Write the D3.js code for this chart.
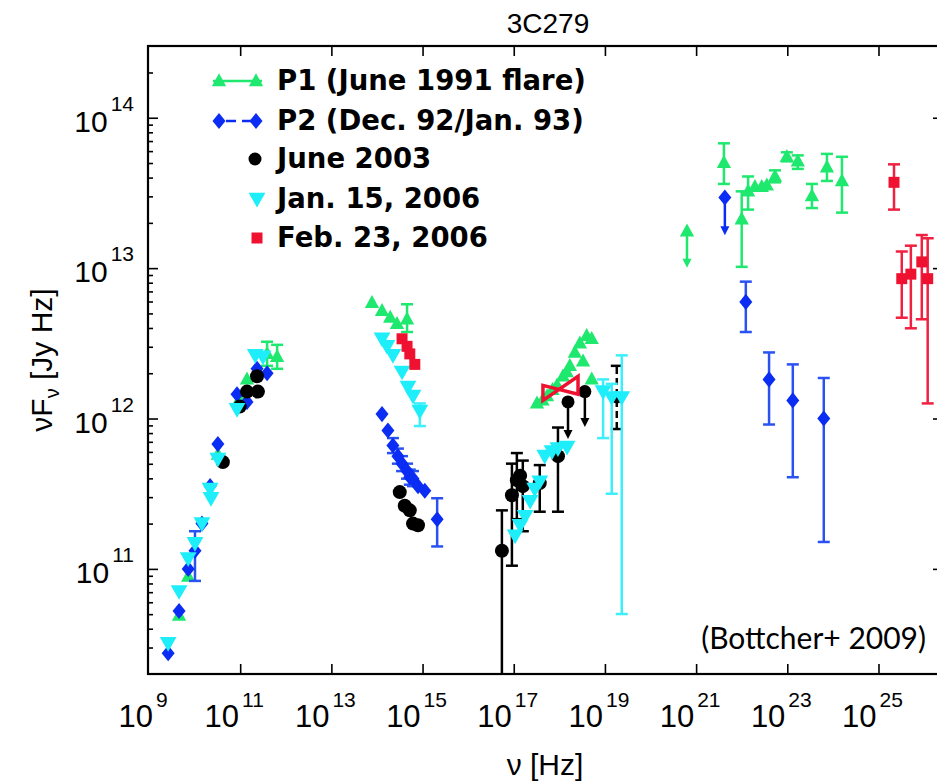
<!DOCTYPE html>
<html><head><meta charset="utf-8">
<script src="https://cdn.jsdelivr.net/npm/d3@7"></script>
<style>body{margin:0;background:#fff}</style>
</head><body>
<svg id="c" width="937" height="783"></svg>
<script>
// ---------------- data ----------------
const xTickExps = [9, 11, 13, 15, 17, 19, 21, 23, 25];
const yTickExps = [11, 12, 13, 14];
const seriesNames = ["P1 (June 1991 flare)", "P2 (Dec. 92/Jan. 93)", "June 2003", "Jan. 15, 2006", "Feb. 23, 2006"];
const seriesColors = ["#1ee86e", "#0b2cf2", "#000000", "#1eeefa", "#ef1230"];

// [nu (Hz), nuFnu (Jy Hz), lower, upper]
const p1 = [
  [4.57e9, 4.90e10], [7.24e9, 8.91e10], [3.24e10, 5.75e11], [9.77e10, 1.35e12], [1.41e11, 1.82e12],
  [3.89e11, 2.69e12, 2.24e12, 3.24e12], [6.46e11, 2.57e12, 2.14e12, 3.09e12],
  [7.76e13, 5.89e12], [1.29e14, 5.20e12], [1.95e14, 4.70e12], [2.75e14, 4.27e12], [4.57e14, 4.57e12, 3.76e12, 5.75e12],
  [3.24e17, 1.26e12], [4.27e17, 1.32e12], [5.37e17, 1.41e12], [7.08e17, 1.55e12], [8.91e17, 1.66e12], [1.20e18, 1.91e12],
  [1.45e18, 2.04e12], [1.70e18, 2.24e12], [2.19e18, 2.75e12], [2.82e18, 3.16e12], [3.31e18, 2.40e12], [3.98e18, 3.55e12],
  [5.13e18, 3.39e12], [5.13e18, 1.82e12],
  [4.07e21, 5.01e13, 3.63e13, 6.76e13], [1.00e22, 2.11e13, 1.02e13, 3.24e13], [1.38e22, 3.24e13, 2.45e13, 4.07e13],
  [1.95e22, 3.47e13], [2.75e22, 3.47e13], [3.55e22, 3.55e13], [5.37e22, 4.07e13, 3.72e13, 4.47e13],
  [9.77e22, 5.50e13, 5.13e13, 5.89e13], [1.70e23, 5.13e13, 4.57e13, 5.62e13], [3.47e23, 3.02e13, 2.51e13, 3.63e13],
  [7.41e23, 4.68e13, 3.80e13, 5.75e13], [1.58e24, 3.80e13, 2.34e13, 5.50e13]
];
// [nu, nuFnu, arrow tip]
const p1Limits = [[6.31e20, 1.76e13, 1.02e13]];

const p2 = [
  [2.63e9, 2.75e10], [4.57e9, 5.25e10], [7.24e9, 1.00e11], [1.02e10, 1.32e11, 8.32e10, 1.78e11], [1.45e10, 2.00e11],
  [2.19e10, 3.55e11], [3.24e10, 6.76e11], [8.51e10, 1.45e12], [1.41e11, 1.29e12], [2.34e11, 2.14e12], [3.89e11, 2.00e12],
  [1.29e14, 1.07e12], [1.74e14, 8.32e11], [2.24e14, 6.61e11, 5.89e11, 7.41e11], [2.88e14, 5.62e11, 5.01e11, 6.31e11],
  [3.55e14, 5.01e11, 4.47e11, 5.62e11], [4.57e14, 4.47e11, 3.98e11, 5.01e11], [5.25e14, 4.07e11, 3.63e11, 4.57e11],
  [6.17e14, 3.98e11, 3.55e11, 4.47e11], [7.94e14, 3.55e11], [1.12e15, 3.31e11], [2.09e15, 2.14e11, 1.41e11, 2.95e11],
  [1.23e22, 5.96e12, 3.76e12, 8.13e12], [3.98e22, 1.82e12, 9.12e11, 2.75e12], [1.32e23, 1.32e12, 4.07e11, 2.29e12],
  [6.31e23, 1.00e12, 1.51e11, 1.86e12]
];
const p2Limits = [[4.27e21, 2.95e13, 1.68e13]];

const june2003 = [
  [4.17e10, 5.13e11], [9.77e10, 1.20e12], [1.41e11, 1.51e12], [2.34e11, 1.91e12], [2.45e11, 1.51e12],
  [3.16e14, 3.24e11], [4.07e14, 2.63e11], [5.25e14, 2.45e11], [6.17e14, 2.00e11], [7.94e14, 1.95e11],
  [5.50e16, 1.32e11, 1.00e9, 2.45e11], [9.12e16, 3.09e11, 1.05e11, 5.01e11], [1.17e17, 3.89e11, 2.14e11, 5.89e11],
  [1.38e17, 4.17e11], [1.58e17, 3.55e11, 1.78e11, 5.25e11], [3.72e17, 3.72e11, 2.40e11, 4.90e11],
  [9.33e17, 5.62e11, 2.40e11, 8.71e11]
];
const june2003Dashed = [[1.82e19, 1.38e12, 8.51e11, 2.24e12]];
const june2003Limits = [[1.55e18, 1.29e12, 7.41e11], [3.63e18, 1.51e12, 8.91e11]];

const jan2006 = [
  [2.63e9, 3.20e10], [4.57e9, 7.08e10], [7.24e9, 1.17e11], [1.02e10, 1.48e11], [1.45e10, 2.00e11],
  [2.19e10, 3.39e11], [2.29e10, 2.95e11], [3.24e10, 5.37e11], [8.51e10, 1.15e12], [2.14e11, 2.63e12], [3.16e11, 2.57e12],
  [1.29e14, 3.39e12], [1.66e14, 3.02e12], [2.24e14, 2.63e12], [3.55e14, 2.04e12], [4.79e14, 1.62e12],
  [6.17e14, 1.41e12], [8.71e14, 1.12e12, 8.91e11, 1.26e12],
  [1.07e17, 1.66e11], [1.38e17, 1.95e11], [1.78e17, 2.24e11], [2.29e17, 2.82e11], [2.88e17, 3.39e11],
  [3.72e17, 3.80e11], [4.79e17, 5.62e11], [6.92e17, 6.03e11], [9.33e17, 6.31e11], [1.48e18, 6.46e11],
  [9.12e18, 1.51e12, 7.41e11, 1.82e12], [1.41e19, 1.38e12, 3.16e11, 1.70e12], [2.34e19, 1.38e12, 5.01e10, 2.63e12]
];

const feb2006 = [
  [3.55e14, 3.39e12], [4.57e14, 3.02e12], [5.25e14, 2.69e12], [6.76e14, 2.29e12],
  [2.19e25, 3.72e13, 2.45e13, 4.90e13], [3.24e25, 8.51e12, 4.68e12, 1.29e13], [5.13e25, 9.12e12, 3.98e12, 1.41e13],
  [8.91e25, 1.10e13, 4.57e12, 1.66e13], [1.20e26, 8.51e12, 1.26e12, 1.58e13]
];
// X-ray bow-tie: [nuLo, nuHi, F(nuLo) low, F(nuLo) high, F(nuHi) low, F(nuHi) high]
const feb2006Bowtie = [4.37e17, 2.57e18, 1.32e12, 1.66e12, 1.45e12, 1.91e12];

// ---------------- drawing ----------------
const svg = d3.select("#c");
const L = 148, R = 943, T = 46, B = 674;
const x = d3.scaleLog().domain([1e9, 2.6e26]).range([L + 1, R]);
const y = d3.scaleLog().domain([2e10, 3e14]).range([B, T]);
const FONT = "'Liberation Sans', Arial, Helvetica, sans-serif";

svg.append("defs").append("clipPath").attr("id", "plot")
  .append("rect").attr("x", L).attr("y", T).attr("width", R - L).attr("height", B - T);

// title
svg.append("text").attr("x", 548).attr("y", 33).attr("text-anchor", "middle")
  .attr("font-family", FONT).attr("font-size", 28).text("3C279");

// axes ticks
const majorX = xTickExps.map(e => Math.pow(10, e)).filter(v => v > 1e9);
const majorY = yTickExps.map(e => Math.pow(10, e));
const minorY = [];
for (let e = 10; e <= 14; e++) for (let k = 2; k <= 9; k++) { const v = k * Math.pow(10, e); if (v > 2e10 && v < 3e14) minorY.push(v); }

function styleAxis(g) {
  g.selectAll(".domain").remove();
  g.selectAll("line").attr("stroke", "#000").attr("stroke-width", 1.6);
  g.selectAll("text").remove();
}
svg.append("g").attr("transform", `translate(0,${B})`).call(d3.axisBottom(x).tickValues(majorX).tickSize(-10)).call(styleAxis);
svg.append("g").attr("transform", `translate(0,${T})`).call(d3.axisTop(x).tickValues(majorX).tickSize(-10)).call(styleAxis);
svg.append("g").attr("transform", `translate(${L},0)`).call(d3.axisLeft(y).tickValues(majorY).tickSize(-10)).call(styleAxis);
svg.append("g").attr("transform", `translate(${L},0)`).call(d3.axisLeft(y).tickValues(minorY).tickSize(-5)).call(styleAxis);
svg.append("g").attr("transform", `translate(${R},0)`).call(d3.axisRight(y).tickValues(majorY).tickSize(-10)).call(styleAxis);
svg.append("g").attr("transform", `translate(${R},0)`).call(d3.axisRight(y).tickValues(minorY).tickSize(-5)).call(styleAxis);

// frame
svg.append("rect").attr("x", L).attr("y", T).attr("width", R - L).attr("height", B - T)
  .attr("fill", "none").attr("stroke", "#000").attr("stroke-width", 2.2);

// tick labels
xTickExps.forEach(e => {
  const t = svg.append("text").attr("x", x(Math.pow(10, e)) - 6).attr("y", 727)
    .attr("text-anchor", "middle").attr("font-family", FONT).attr("font-size", 31);
  t.append("tspan").text("10");
  t.append("tspan").attr("dx", 3).attr("dy", -20).attr("font-size", 21).text(e);
});
yTickExps.forEach(e => {
  const yy = y(Math.pow(10, e));
  const t = svg.append("text").attr("x", 134).attr("y", yy + 14)
    .attr("text-anchor", "end").attr("font-family", FONT).attr("font-size", 30);
  t.append("tspan").text("10");
  t.append("tspan").attr("dx", 3).attr("dy", -21).attr("font-size", 21).text(e);
});

// axis titles
const yl = svg.append("text").attr("transform", "translate(52,360) rotate(-90)")
  .attr("text-anchor", "middle").attr("font-family", FONT).attr("font-size", 30);
yl.append("tspan").text("νF");
yl.append("tspan").attr("dy", 7).attr("font-size", 20).text("ν");
yl.append("tspan").attr("dy", -7).text(" [Jy Hz]");

svg.append("text").attr("x", 545).attr("y", 775).attr("text-anchor", "middle")
  .attr("font-family", FONT).attr("font-size", 30).text("ν [Hz]");

svg.append("text").attr("x", 926).attr("y", 649).attr("text-anchor", "end")
  .attr("font-family", "Lato, 'Open Sans', sans-serif").attr("font-size", 30).text("(Bottcher+ 2009)");

// marker shapes
const shapes = {
  tri: (s) => `M0,${-s * 0.6}L${s * 0.55},${s * 0.4}L${-s * 0.55},${s * 0.4}Z`,
  dtri: (s) => `M0,${s * 0.6}L${s * 0.6},${-s * 0.45}L${-s * 0.6},${-s * 0.45}Z`,
  dia: (s) => `M0,${-s * 0.62}L${s * 0.5},0L0,${s * 0.62}L${-s * 0.5},0Z`,
  sq: (s) => `M${-s / 2},${-s / 2}h${s}v${s}h${-s}Z`,
  circ: (s) => d3.symbol(d3.symbolCircle, Math.PI * (s / 2) * (s / 2))()
};

const plot = svg.append("g").attr("clip-path", "url(#plot)");

function drawSeries(data, color, errColor, shape, size, opts = {}) {
  const g = plot.append("g");
  const withErr = data.filter(d => d.length >= 4);
  withErr.forEach(d => {
    const cx = x(d[0]);
    g.append("line").attr("x1", cx).attr("x2", cx).attr("y1", y(d[2])).attr("y2", y(d[3]))
      .attr("stroke", errColor).attr("stroke-width", 2.5)
      .attr("stroke-dasharray", opts.dashed ? "7,4" : null);
    [d[2], d[3]].forEach(v => g.append("line").attr("x1", cx - 6).attr("x2", cx + 6)
      .attr("y1", y(v)).attr("y2", y(v)).attr("stroke", errColor).attr("stroke-width", 2.5));
  });
  g.selectAll("path.m").data(data).enter().append("path").attr("class", "m")
    .attr("transform", d => `translate(${x(d[0])},${y(d[1])})`)
    .attr("d", shapes[shape](size)).attr("fill", color);
}
function drawLimits(data, color, shape, size) {
  const g = plot.append("g");
  data.forEach(d => {
    const cx = x(d[0]), y0 = y(d[1]), y1 = y(d[2]);
    g.append("line").attr("x1", cx).attr("x2", cx).attr("y1", y0).attr("y2", y1 - 4)
      .attr("stroke", color).attr("stroke-width", 2.5);
    g.append("path").attr("d", `M${cx - 4.5},${y1 - 8}L${cx + 4.5},${y1 - 8}L${cx},${y1 + 1}Z`).attr("fill", color);
    if (shape) g.append("path").attr("transform", `translate(${cx},${y0})`).attr("d", shapes[shape](size)).attr("fill", color);
  });
}

// P1
drawSeries(p1, seriesColors[0], seriesColors[0], "tri", 13);
drawLimits(p1Limits, seriesColors[0], "tri", 13);
// P2
drawSeries(p2, seriesColors[1], "#2a52f2", "dia", 13);
drawLimits(p2Limits, seriesColors[1], "dia", 13);
// June 2003
drawSeries(june2003Dashed, "#000", "#000", "circ", 12, { dashed: true });
drawSeries(june2003, "#000", "#000", "circ", 14);
drawLimits(june2003Limits, "#000", "circ", 13);
// Jan 15 2006
drawSeries(jan2006, seriesColors[3], "#3ceffa", "dtri", 14);
// Feb 23 2006
drawSeries(feb2006, seriesColors[4], "#f02040", "sq", 11);
const bt = feb2006Bowtie;
plot.append("path")
  .attr("d", `M${x(bt[0])},${y(bt[3])}L${x(bt[1])},${y(bt[4])}L${x(bt[1])},${y(bt[5])}L${x(bt[0])},${y(bt[2])}Z`)
  .attr("fill", "none").attr("stroke", seriesColors[4]).attr("stroke-width", 3.5);

// legend
const legBase = [90, 130, 168, 208, 247];
const lg = svg.append("g");
legBase.forEach((b, i) => {
  lg.append("text").attr("x", 277).attr("y", b).attr("font-family", "'DejaVu Sans', sans-serif")
    .attr("font-weight", "bold").attr("font-size", 27.5).text(seriesNames[i]);
});
const ly = legBase.map(b => b - 9);
lg.append("line").attr("x1", 213).attr("x2", 262).attr("y1", ly[0]).attr("y2", ly[0]).attr("stroke", seriesColors[0]).attr("stroke-width", 2.5);
[219, 256].forEach(cx => lg.append("path").attr("transform", `translate(${cx},${ly[0]})`).attr("d", shapes.tri(13)).attr("fill", seriesColors[0]));
lg.append("line").attr("x1", 213).attr("x2", 262).attr("y1", ly[1]).attr("y2", ly[1]).attr("stroke", seriesColors[1]).attr("stroke-width", 2.5).attr("stroke-dasharray", "0,13,10,6,10,20");
[219, 256].forEach(cx => lg.append("path").attr("transform", `translate(${cx},${ly[1]})`).attr("d", shapes.dia(13)).attr("fill", seriesColors[1]));
lg.append("path").attr("transform", `translate(255,${ly[2]})`).attr("d", shapes.circ(13)).attr("fill", "#000");
lg.append("path").attr("transform", `translate(257,${ly[3]})`).attr("d", shapes.dtri(14)).attr("fill", seriesColors[3]);
lg.append("path").attr("transform", `translate(257,${ly[4]})`).attr("d", shapes.sq(11)).attr("fill", seriesColors[4]);
</script>
</body></html>
